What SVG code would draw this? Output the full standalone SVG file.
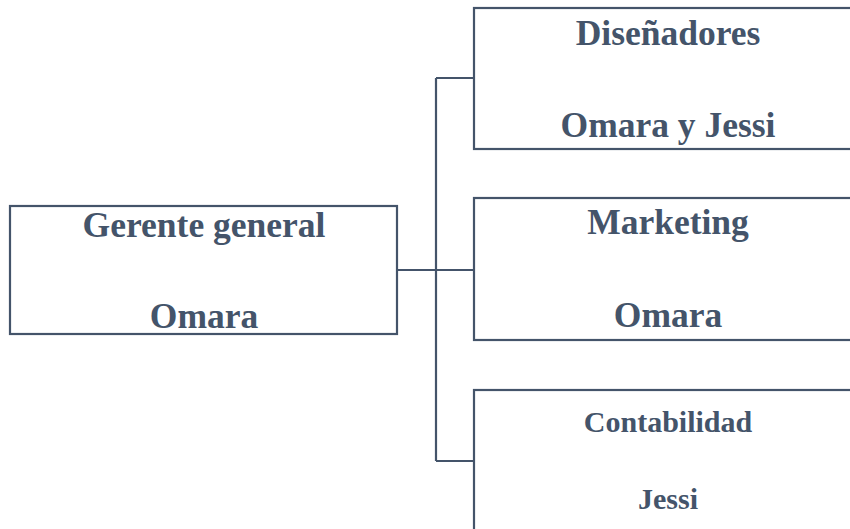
<svg xmlns="http://www.w3.org/2000/svg" width="850" height="529" viewBox="0 0 850 529">
<style>
.box{fill:#fff;stroke:#44546a;stroke-width:2.2}
.t{font-family:"Liberation Serif","Times New Roman",serif;font-weight:bold;fill:#44546a;text-anchor:middle;font-size:35.5px}
.s{font-size:30px}
.c{fill:none;stroke:#44546a;stroke-width:2.2}
</style>
<rect width="850" height="529" fill="#fff"/>
<g id="connectors">
<path class="c" d="M397 270H436M436 78V461M436 78H474M436 270H474M436 461H474"/>
</g>
<g id="root">
<rect class="box" x="10" y="206" width="387" height="128"/>
<text class="t" x="204" y="237">Gerente general</text>
<text class="t" x="204" y="328">Omara</text>
</g>
<g id="disenadores">
<rect class="box" x="474" y="8" width="390" height="141"/>
<text class="t" x="668" y="45">Diseñadores</text>
<text class="t" x="668" y="137">Omara y Jessi</text>
</g>
<g id="marketing">
<rect class="box" x="474" y="198" width="390" height="142"/>
<text class="t" x="668" y="234">Marketing</text>
<text class="t" x="668" y="327">Omara</text>
</g>
<g id="contabilidad">
<rect class="box" x="474" y="390" width="390" height="150"/>
<text class="t s" x="668" y="432">Contabilidad</text>
<text class="t s" x="668" y="509">Jessi</text>
</g>
</svg>
